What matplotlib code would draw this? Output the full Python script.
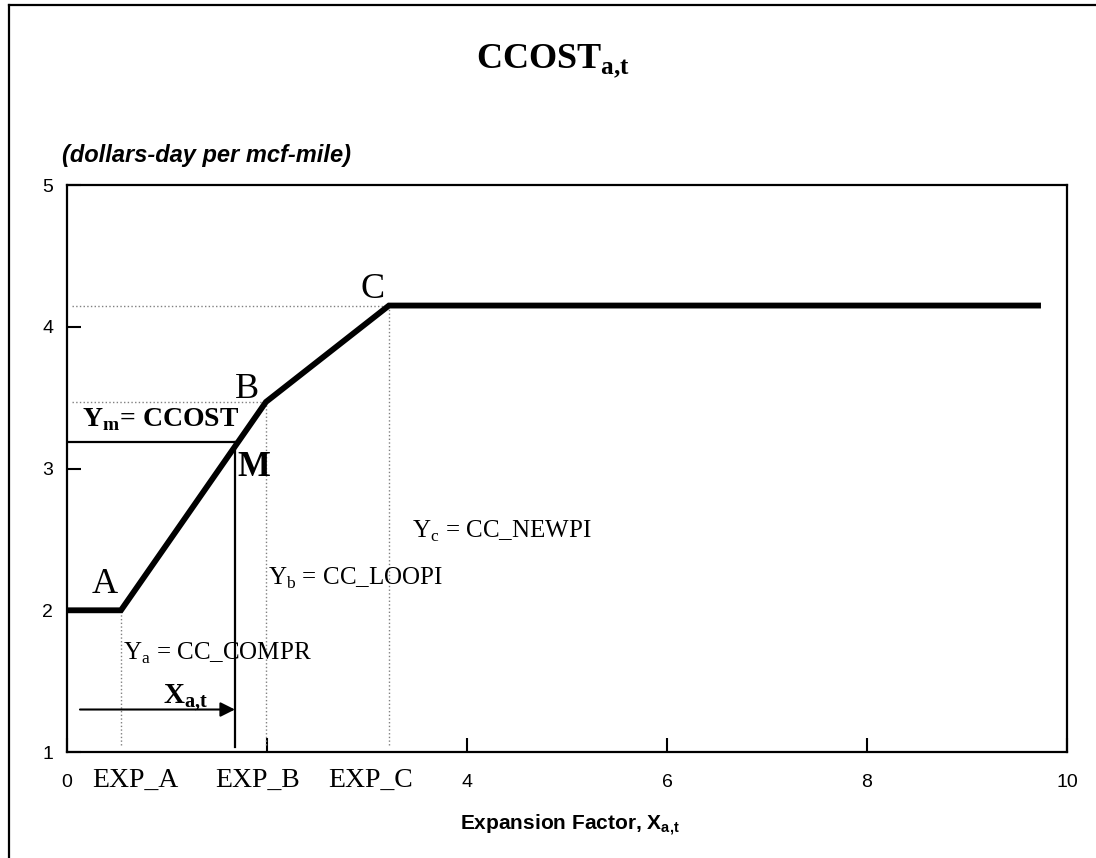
import matplotlib
matplotlib.use('Agg')
import matplotlib.pyplot as plt
from matplotlib.lines import Line2D

plt.rcParams['font.family'] = ['Liberation Sans', 'DejaVu Sans']
plt.rcParams['mathtext.fontset'] = 'custom'
plt.rcParams['mathtext.rm'] = 'Liberation Serif'
plt.rcParams['mathtext.bf'] = 'Liberation Serif:bold'

# curva de custo (pontos 0, A, B, C, fim)
curva_x = [0.0, 0.54, 1.99, 3.22, 9.74]
curva_y = [2.0, 2.0, 3.47, 4.15, 4.15]

# ponto M
m_x = 1.68
m_y = 3.19
seta_inicio = 0.13
seta_y = 1.30

# ticks
xticks = [0, 2, 4, 6, 8, 10]
xtick_labels = ['0', '', '4', '6', '8', '10']
yticks = [1, 2, 3, 4, 5]
exp_labels = ['EXP_A', 'EXP_B', 'EXP_C']
exp_pos = [0.68, 1.91, 3.04]

SERIF = 'Liberation Serif'

fig = plt.figure(figsize=(10.96, 8.58), dpi=100)
ax = fig.add_axes([0.0611, 0.1235, 0.9124, 0.6608])

# linhas pontilhadas de referência
cinza = '#808080'
ax.plot([0.05, curva_x[3]], [curva_y[3], curva_y[3]], ls=':', lw=1, color=cinza)
ax.plot([0.05, curva_x[2]], [curva_y[2], curva_y[2]], ls=':', lw=1, color=cinza)
for i in [1, 2, 3]:
    ax.plot([curva_x[i], curva_x[i]], [1.05, curva_y[i]], ls=':', lw=1, color=cinza)

# linhas do ponto M
ax.plot([0, m_x], [m_y, m_y], color='k', lw=1.6)
ax.plot([m_x, m_x], [1.035, m_y], color='k', lw=1.6)

# curva principal
ax.plot(curva_x, curva_y, color='k', lw=4.2, solid_joinstyle='miter',
        solid_capstyle='butt', zorder=5)

# seta X_a,t
ax.annotate('', xy=(m_x, seta_y), xytext=(seta_inicio, seta_y),
            arrowprops=dict(arrowstyle='-|>', lw=1.5, color='k',
                            mutation_scale=22, shrinkA=0, shrinkB=0))

# rótulos
ax.text(0.38, 2.12, 'A', family=SERIF, size=26, ha='center', va='baseline')
ax.text(1.805, 3.50, 'B', family=SERIF, size=26, ha='center', va='baseline')
ax.text(3.055, 4.20, 'C', family=SERIF, size=26, ha='center', va='baseline')
ax.text(1.70, 2.95, 'M', family=SERIF, size=25, weight='bold', ha='left', va='baseline')
ax.text(0.15, 3.30, r'Y$_\mathregular{m}$= CCOST', family=SERIF, size=20,
        weight='bold', ha='left', va='baseline')
ax.text(0.56, 1.65, r'Y$_\mathregular{a}$ = CC_COMPR', family=SERIF, size=18,
        ha='left', va='baseline')
ax.text(2.01, 2.18, r'Y$_\mathregular{b}$ = CC_LOOPI', family=SERIF, size=18,
        ha='left', va='baseline')
ax.text(3.45, 2.51, r'Y$_\mathregular{c}$ = CC_NEWPI', family=SERIF, size=18,
        ha='left', va='baseline')
ax.text(0.96, 1.34, r'X$_\mathregular{a{,}t}$', family=SERIF, size=21,
        weight='bold', ha='left', va='baseline')

for lab, xp in zip(exp_labels, exp_pos):
    ax.text(xp, -0.0617, lab, family=SERIF, size=20, ha='center', va='baseline',
            transform=ax.get_xaxis_transform())

ax.set_xlim(0, 10)
ax.set_ylim(1, 5)
ax.set_xticks(xticks)
ax.set_xticklabels(xtick_labels)
ax.set_yticks(yticks)
ax.tick_params(direction='in', length=10, width=1.5, labelsize=14)
ax.tick_params(axis='x', pad=16)
ax.tick_params(axis='y', pad=10)
for s in ax.spines.values():
    s.set_linewidth(1.6)

ax.set_xlabel(r'Expansion Factor, X$_\mathregular{a{,}t}$', fontsize=15,
              fontweight='bold', va='baseline')
ax.xaxis.set_label_coords(0.503, -0.1376)

fig.text(0.505, 1 - 68 / 858, r'CCOST$_\mathregular{a{,}t}$', family=SERIF,
         weight='bold', size=26, ha='center', va='baseline')
fig.text(62 / 1096, 1 - 162 / 858, '(dollars-day per mcf-mile)', size=17,
         weight='bold', style='italic', ha='left', va='baseline')

# moldura externa
fig.add_artist(Line2D([9 / 1096, 9 / 1096], [0, 1 - 5 / 858], color='k', lw=1.6,
                      transform=fig.transFigure))
fig.add_artist(Line2D([9 / 1096, 1], [1 - 5 / 858, 1 - 5 / 858], color='k', lw=1.6,
                      transform=fig.transFigure))

fig.savefig('out.png', dpi=100)
